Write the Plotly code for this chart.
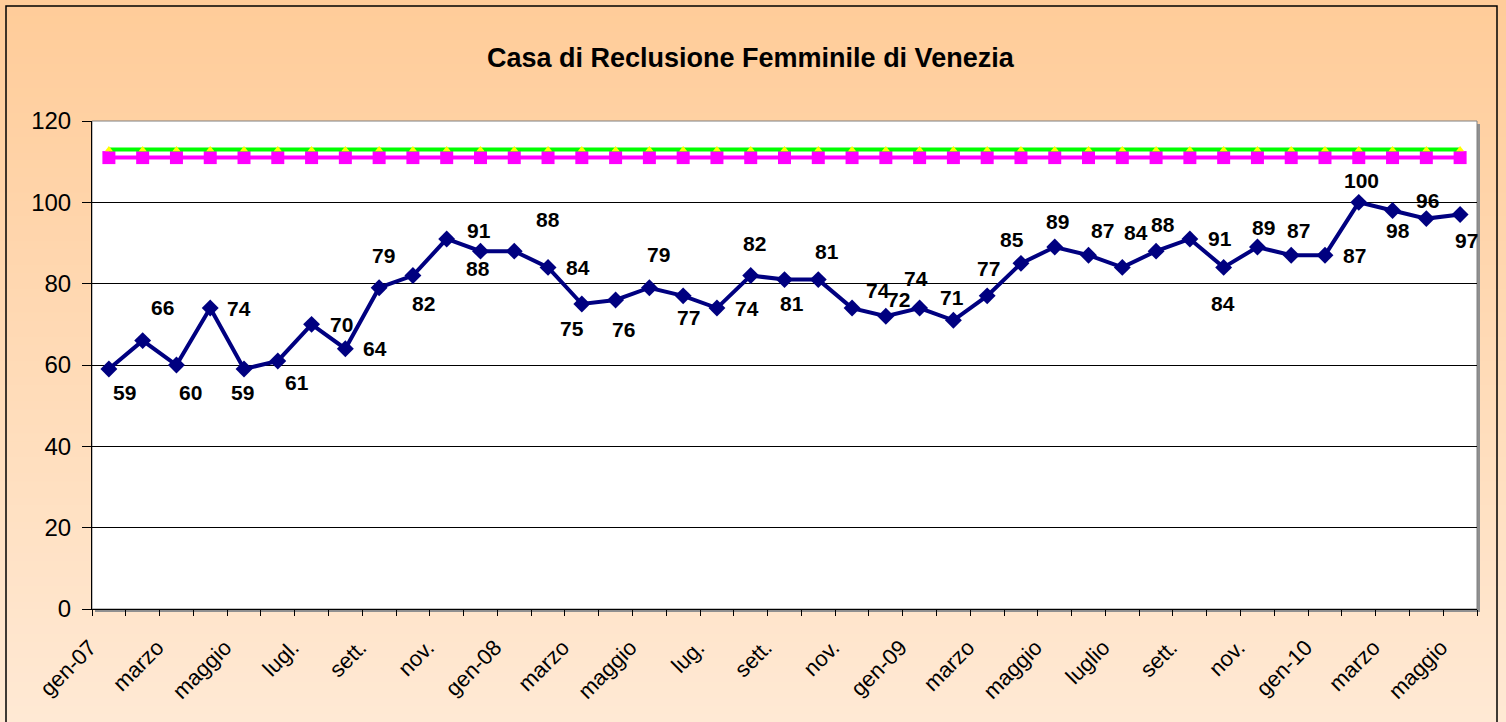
import plotly.graph_objects as go

# ---------------- data ----------------
months = ["gen-07", "feb", "marzo", "apr", "maggio", "giu", "lugl.", "ago", "sett.", "ott", "nov.", "dic",
          "gen-08", "feb", "marzo", "apr", "maggio", "giu", "lug.", "ago", "sett.", "ott", "nov.", "dic",
          "gen-09", "feb", "marzo", "apr", "maggio", "giu", "luglio", "ago", "sett.", "ott", "nov.", "dic",
          "gen-10", "feb", "marzo", "apr", "maggio"]
presenze = [59, 66, 60, 74, 59, 61, 70, 64, 79, 82, 91, 88,
            88, 84, 75, 76, 79, 77, 74, 82, 81, 81, 74, 72,
            74, 71, 77, 85, 89, 87, 84, 88, 91, 84, 89, 87,
            87, 100, 98, 96, 97]
capienza_regolamentare = [111] * len(months)
capienza_tollerabile = [113] * len(months)
tick_labels = ["gen-07", "marzo", "maggio", "lugl.", "sett.", "nov.",
               "gen-08", "marzo", "maggio", "lug.", "sett.", "nov.",
               "gen-09", "marzo", "maggio", "luglio", "sett.", "nov.",
               "gen-10", "marzo", "maggio"]
title_text = "Casa di Reclusione Femminile di Venezia"

# ---------------- style ----------------
W, H = 1506, 722
ML, MR, MT, MB = 92, 29, 121, 113
PW, PH = W - ML - MR, H - MT - MB
FONT = "Liberation Sans, Arial, sans-serif"

# label offsets in screen pixels (dx right, dy down) for each data label
label_offsets = [(16, 23), (20, -33), (14, 27), (29, 0), (-2, 23), (19, 22), (30, 0), (30, 0),
                 (4, -32), (11, 28), (32, -8), (-2, 17), (34, -32), (30, 0), (-10, 24), (8, 30),
                 (9, -33), (5, 22), (30, 0), (4, -32), (7, 24), (9, -28), (26, -18), (13, -17),
                 (-4, -30), (-1, -23), (1, -27), (-9, -24), (3, -26), (14, -25), (14, -35), (7, -27),
                 (30, 0), (-1, 36), (6, -20), (7, -25), (30, 0), (3, -22), (5, 20), (1, -18), (6, 26)]


def px_x(px):
    return (px - ML) / PW


def px_y(py):
    return (H - MB - py) / PH


x = list(range(len(months)))

fig = go.Figure()
fig.add_trace(go.Scatter(
    x=x, y=capienza_regolamentare, mode="lines+markers",
    line=dict(color="#FF00FF", width=4),
    marker=dict(symbol="square", size=13, color="#FF00FF"),
    hoverinfo="skip", showlegend=False))
fig.add_trace(go.Scatter(
    x=x, y=capienza_tollerabile, mode="lines+markers",
    line=dict(color="#00FF00", width=4),
    marker=dict(symbol="triangle-up", size=7, color="#FFFF00"),
    hoverinfo="skip", showlegend=False))
fig.add_trace(go.Scatter(
    x=x, y=presenze, mode="lines+markers",
    line=dict(color="#000080", width=4),
    marker=dict(symbol="diamond", size=13, color="#000080"),
    showlegend=False))

# data labels
annotations = []
for i, v in enumerate(presenze):
    dx, dy = label_offsets[i]
    annotations.append(dict(x=i, y=v, xref="x", yref="y", text=str(v), showarrow=False,
                            xshift=dx, yshift=-dy, xanchor="center", yanchor="middle",
                            font=dict(family=FONT, size=21, color="black", weight="bold")))
annotations.append(dict(x=px_x(751), y=px_y(58), xref="paper", yref="paper", text="<b>" + title_text + "</b>",
                        showarrow=False, xanchor="center", yanchor="middle",
                        font=dict(family=FONT, size=27, color="black")))

# background gradient strips
shapes = []
N = 90
top = (255, 204, 153)
bot = (255, 233, 212)
for k in range(N):
    t = k / (N - 1)
    c = tuple(round(top[j] + (bot[j] - top[j]) * t) for j in range(3))
    y0 = k * H / N
    y1 = (k + 1) * H / N + 1
    shapes.append(dict(type="rect", xref="paper", yref="paper", layer="below",
                       x0=px_x(0), x1=px_x(W), y0=px_y(y0), y1=px_y(y1),
                       line=dict(width=0), fillcolor="rgb(%d,%d,%d)" % c))
# plot area shadow and white area
shapes.append(dict(type="rect", xref="paper", yref="paper", layer="below",
                   x0=px_x(ML + 3), x1=px_x(W - MR + 3), y0=px_y(H - MB + 3), y1=px_y(MT + 3),
                   line=dict(width=0), fillcolor="#909090"))
shapes.append(dict(type="rect", xref="paper", yref="paper", layer="below",
                   x0=0, x1=1, y0=0, y1=1,
                   line=dict(width=1, color="#808080"), fillcolor="white"))
# chart border
shapes.append(dict(type="rect", xref="paper", yref="paper", layer="above",
                   x0=px_x(6), x1=px_x(1497), y0=px_y(730), y1=px_y(6),
                   line=dict(width=1.5, color="black"), fillcolor="rgba(0,0,0,0)"))

fig.update_layout(
    width=W, height=H,
    margin=dict(l=ML, r=MR, t=MT, b=MB, pad=0),
    paper_bgcolor="#FFE6CC", plot_bgcolor="rgba(0,0,0,0)",
    shapes=shapes, annotations=annotations,
    font=dict(family=FONT, color="black"),
    xaxis=dict(range=[-0.5, len(months) - 0.5], tickmode="array",
               tickvals=list(range(0, len(months), 2)), ticktext=tick_labels,
               tickangle=-45, tickfont=dict(size=22, family=FONT, color="black"),
               ticklabelshift=-19, ticklabelstandoff=16,
               ticks="", showgrid=False, zeroline=False,
               showline=True, linecolor="black", linewidth=1,
               minor=dict(tickmode="array", tickvals=[i - 0.5 for i in range(len(months) + 1)],
                          ticks="outside", ticklen=6, tickcolor="black", tickwidth=1, showgrid=False)),
    yaxis=dict(range=[0, 120], tickmode="linear", tick0=0, dtick=20,
               tickfont=dict(size=24, family=FONT, color="black"),
               ticks="outside", ticklen=9, tickcolor="black", ticklabelstandoff=6,
               showgrid=True, gridcolor="black", gridwidth=1, zeroline=False,
               showline=True, linecolor="black", linewidth=1),
)

fig.write_html("out.html", config={"displayModeBar": False},
               post_script="document.body.style.margin='0px';")
